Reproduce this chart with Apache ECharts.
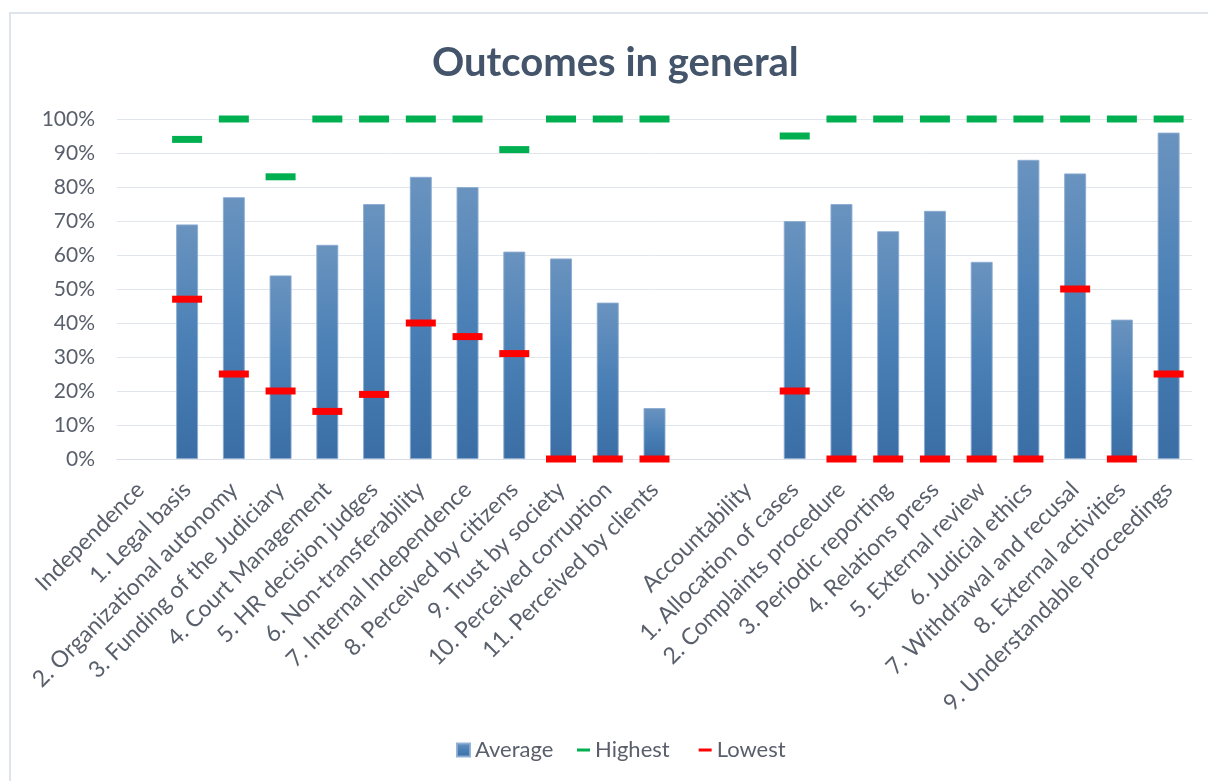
<!DOCTYPE html>
<html>
<head>
<meta charset="utf-8">
<title>Outcomes in general</title>
<script src="https://cdn.jsdelivr.net/npm/echarts@6/dist/echarts.min.js"></script>
<style>
  html, body { margin: 0; padding: 0; background: #fff; }
  #frame {
    position: absolute; left: 9px; top: 12px; width: 1210px; height: 780px;
    border: 2px solid #dfe3ea; box-sizing: border-box;
  }
  #chart { position: absolute; left: 0; top: 0; width: 1208px; height: 781px; }
</style>
</head>
<body>
<div id="frame"></div>
<div id="chart"></div>
<script>
// categories (the empty one is the gap between the two groups)
var categories = [
  'Independence', '1. Legal basis', '2. Organizational autonomy', '3. Funding of the Judiciary',
  '4. Court Management', '5. HR decision judges', '6. Non-transferability', '7. Internal Independence',
  '8. Perceived by citizens', '9. Trust by society', '10. Perceived corruption', '11. Perceived by clients',
  '',
  'Accountability', '1. Allocation of cases', '2. Complaints procedure', '3. Periodic reporting',
  '4. Relations press', '5. External review', '6. Judicial ethics', '7. Withdrawal and recusal',
  '8. External activities', '9. Understandable proceedings'
]
var average = [null, 69, 77, 54, 63, 75, 83, 80, 61, 59, 46, 15, null, null, 70, 75, 67, 73, 58, 88, 84, 41, 96]
var highest = [null, 94, 100, 83, 100, 100, 100, 100, 91, 100, 100, 100, null, null, 95, 100, 100, 100, 100, 100, 100, 100, 100]
var lowest = [null, 47, 25, 20, 14, 19, 40, 36, 31, 0, 0, 0, null, null, 20, 0, 0, 0, 0, 0, 50, 0, 25]
var yTicks = [0, 10, 20, 30, 40, 50, 60, 70, 80, 90, 100]

var textColor = '#595f6b'
var fontName = 'Lato, "Open Sans", sans-serif'

var chart = echarts.init(document.getElementById('chart'), null, { renderer: 'canvas' })
var option = {
  animation: false,
  textStyle: { fontFamily: fontName },
  title: {
    text: 'Outcomes in general',
    left: 427,
    top: 38,
    textStyle: { fontFamily: fontName, fontSize: 40, fontWeight: 'bold', color: '#44546a' }
  },
  legend: [
    {
      data: [{ name: 'Average', icon: 'rect' }],
      left: 451,
      top: 734,
      itemWidth: 13,
      itemHeight: 13,
      textStyle: { fontSize: 22, color: textColor, fontFamily: fontName }
    },
    {
      data: [{ name: 'Highest', icon: 'rect' }, { name: 'Lowest', icon: 'rect' }],
      left: 572,
      top: 734,
      itemWidth: 13,
      itemHeight: 3,
      itemGap: 29,
      textStyle: { fontSize: 22, color: textColor, fontFamily: fontName }
    }
  ],
  grid: { left: 117, right: 16, top: 119, bottom: 322, containLabel: false },
  xAxis: {
    type: 'category',
    data: categories,
    axisTick: { show: false },
    axisLine: { lineStyle: { color: '#d9dde5' } },
    axisLabel: {
      interval: 0,
      rotate: 45,
      margin: 27,
      fontSize: 23,
      color: textColor,
      fontFamily: fontName
    }
  },
  yAxis: {
    type: 'value',
    min: yTicks[0],
    max: yTicks[yTicks.length - 1],
    interval: 10,
    axisLine: { show: false },
    axisTick: { show: false },
    splitLine: { lineStyle: { color: '#e1e5ec' } },
    axisLabel: { formatter: '{value}%', fontSize: 21, color: textColor, margin: 22, fontFamily: fontName }
  },
  series: [
    {
      name: 'Average',
      type: 'bar',
      data: average,
      barWidth: 22,
      itemStyle: {
        color: new echarts.graphic.LinearGradient(0, 0, 0, 1, [
          { offset: 0, color: '#6a93bf' },
          { offset: 0.5, color: '#4a80b6' },
          { offset: 1, color: '#3a6ea5' }
        ]),
        borderColor: 'rgba(140,172,210,0.9)',
        borderWidth: 1
      }
    },
    {
      name: 'Highest',
      type: 'scatter',
      data: highest,
      symbol: 'rect',
      symbolSize: [30, 7],
      itemStyle: { color: '#00b050', opacity: 1 },
      z: 5
    },
    {
      name: 'Lowest',
      type: 'scatter',
      data: lowest,
      symbol: 'rect',
      symbolSize: [30, 7],
      itemStyle: { color: '#ff0000', opacity: 1 },
      z: 6
    }
  ]
}
chart.setOption(option)
</script>
</body>
</html>
